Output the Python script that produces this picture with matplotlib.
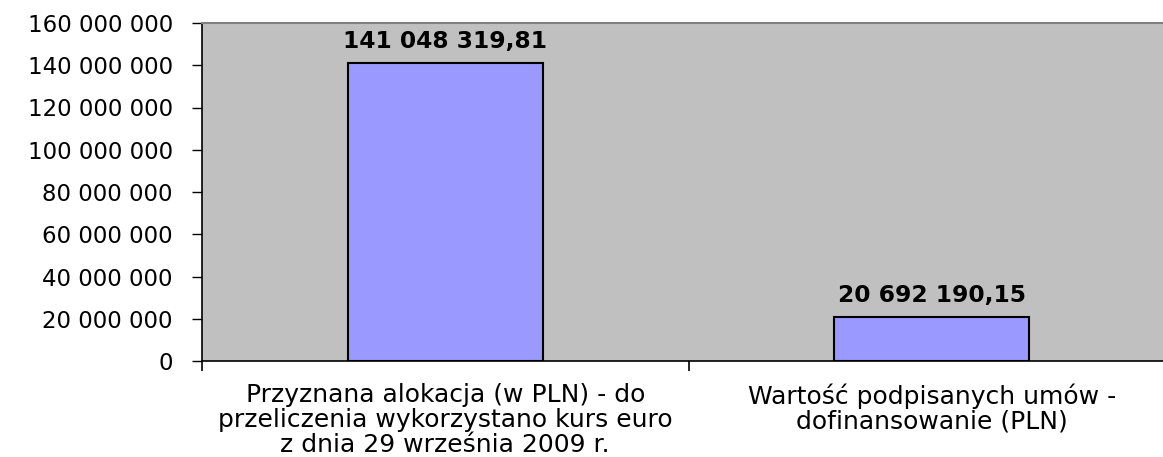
import matplotlib
matplotlib.use("Agg")
import matplotlib.pyplot as plt
from matplotlib.ticker import FuncFormatter, FixedLocator

categories = [
    "Przyznana alokacja (w PLN) - do\nprzeliczenia wykorzystano kurs euro\nz dnia 29 września 2009 r.",
    "Wartość podpisanych umów -\ndofinansowanie (PLN)",
]
values = [141048319.81, 20692190.15]
yticks = [0, 20000000, 40000000, 60000000, 80000000, 100000000, 120000000, 140000000, 160000000]

plt.rcParams['font.family'] = ['DejaVu Sans']

fig = plt.figure(figsize=(11.63, 4.57), dpi=100)
ax = fig.add_axes([202/1163, 1 - 361/457, (1175-202)/1163, (361-23)/457])
ax.set_facecolor('#C0C0C0')

x = range(len(values))
bars = ax.bar(x, values, width=0.4, color='#9999FF', edgecolor='black', linewidth=1.5, zorder=3)

# value labels above bars
for xi, v in zip(x, values):
    s = f"{v:,.2f}".replace(",", " ").replace(".", ",")
    ax.annotate(s, (xi, v), xytext=(0, 11), textcoords='offset points',
                ha='center', va='baseline', fontsize=16.8, fontweight='bold')

ax.set_xlim(-0.5, len(values) - 0.5)
ax.set_ylim(0, 160000000)
ax.set_yticks(yticks)
ax.yaxis.set_major_formatter(FuncFormatter(lambda v, p: f"{int(v):,}".replace(",", " ")))
ax.tick_params(axis='y', direction='out', length=7, width=1, pad=14, labelsize=16.5)

ax.set_xticks(list(x))
ax.set_xticklabels(categories, fontsize=18, linespacing=1.05)
ax.tick_params(axis='x', which='major', length=0, pad=16)
ax.xaxis.set_minor_locator(FixedLocator([-0.5, 0.5, 1.5]))
ax.tick_params(axis='x', which='minor', direction='out', length=7, width=1.2)

ax.spines['right'].set_visible(False)
ax.spines['top'].set_color('#808080')
ax.spines['top'].set_linewidth(1.5)
ax.spines['left'].set_linewidth(1.2)
ax.spines['bottom'].set_linewidth(1.2)

fig.savefig('out.png', dpi=100)
